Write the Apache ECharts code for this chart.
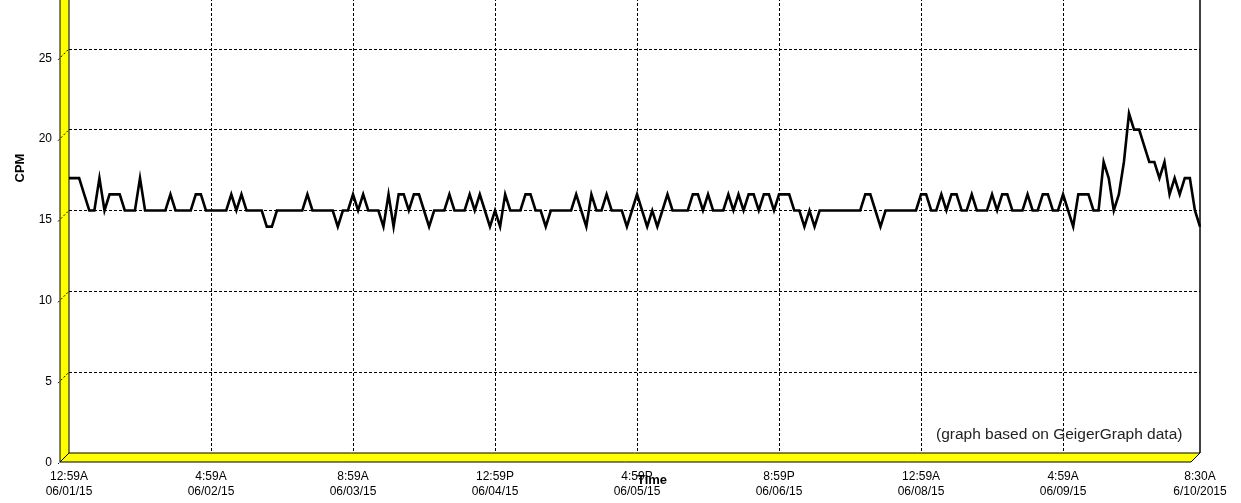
<!DOCTYPE html>
<html><head><meta charset="utf-8">
<script src="https://cdn.jsdelivr.net/npm/echarts@6/dist/echarts.min.js"></script>
<style>html,body{margin:0;padding:0;background:#fff;overflow:hidden}#c{width:1241px;height:535px;margin-top:-32px}</style>
</head><body><div id="c"></div>
<script>
// Hourly CPM readings, 12:59A 06/01/15 .. 8:30A 6/10/2015
const cpm = [
 17,17,17,16,15,15,17,15,16,16, 16,15,15,15,17,15,15,15,15,15,
 16,15,15,15,15,16,16,15,15,15, 15,15,16,15,16,15,15,15,15,14,
 14,15,15,15,15,15,15,16,15,15, 15,15,15,14,15,15,16,15,16,15,
 15,15,14,16,14,16,16,15,16,16, 15,14,15,15,15,16,15,15,15,16,
 15,16,15,14,15,14,16,15,15,15, 16,16,15,15,14,15,15,15,15,15,
 16,15,14,16,15,15,16,15,15,15, 14,15,16,15,14,15,14,15,16,15,
 15,15,15,16,16,15,16,15,15,15, 16,15,16,15,16,16,15,16,16,15,
 16,16,16,15,15,14,15,14,15,15, 15,15,15,15,15,15,15,16,16,15,
 14,15,15,15,15,15,15,15,16,16, 15,15,16,15,16,16,15,15,16,15,
 15,15,16,15,16,16,15,15,15,16, 15,15,16,16,15,15,16,15,14,16,
 16,16,15,15,18,17,15,16,18,21, 20,20,19,18,18,17,18,16,17,16,
 17,17,15,14
];
const tickIndex = [0,28,56,84,112,140,168,196,223];
const tickLabels = ['12:59A\n06/01/15','4:59A\n06/02/15','8:59A\n06/03/15','12:59P\n06/04/15',
  '4:59P\n06/05/15','8:59P\n06/06/15','12:59A\n06/08/15','4:59A\n06/09/15','8:30A\n6/10/2015'];
const yTicks = [0,5,10,15,20,25];
const categories = cpm.map((_, i) => String(i));

const FONT = '"Liberation Sans", Arial, sans-serif';
const OFF = 32; // the chart canvas starts 32px above the page
const chart = echarts.init(document.getElementById('c'), null, {renderer: 'canvas'});
const dash = [3, 2];
chart.setOption({
  animation: false,
  backgroundColor: '#ffffff',
  grid: {left: 69, right: 41, top: 0, bottom: 50, containLabel: false},
  xAxis: {
    type: 'category', data: categories, boundaryGap: false,
    axisLine: {show: false}, axisTick: {show: false},
    axisLabel: {
      interval: (i) => tickIndex.includes(i),
      formatter: (v, i) => { const k = tickIndex.indexOf(Number(v)); return k >= 0 ? tickLabels[k] : ''; },
      margin: 16, color: '#000', fontFamily: FONT, fontSize: 12, lineHeight: 15, align: 'center'
    },
    splitLine: {show: true, interval: (i) => tickIndex.includes(i) && i !== 0 && i !== 223,
      lineStyle: {color: '#000', width: 1, type: dash}}
  },
  yAxis: {
    type: 'value', min: 0, max: 30, interval: 5,
    axisLine: {show: false}, axisTick: {show: false},
    axisLabel: {
      formatter: (v) => yTicks.includes(v) ? String(v) : '',
      margin: 17, color: '#000', fontFamily: FONT, fontSize: 12,
      verticalAlign: 'top', lineHeight: 19
    },
    splitLine: {show: true, lineStyle: {color: '#000', width: 1, type: dash}}
  },
  series: [{
    type: 'line', data: cpm, symbol: 'none', z: 5,
    lineStyle: {color: '#000', width: 2.6, join: 'miter'}
  }]
});

// 3D-style walls and decorations (positions from the axes)
const xL = chart.convertToPixel({xAxisIndex: 0}, 0);
const xR = chart.convertToPixel({xAxisIndex: 0}, cpm.length - 1);
const y0 = chart.convertToPixel({yAxisIndex: 0}, 0);
const d = 9;
const g = [];
g.push({type: 'polygon', shape: {points: [[xL - d, 0], [xL, 0], [xL, y0], [xL - d, y0 + d]]},
  style: {fill: '#ffff00', stroke: '#000', lineWidth: 1}, z: 10});
g.push({type: 'polygon', shape: {points: [[xL - d, y0 + d], [xL, y0], [xR, y0], [xR - d, y0 + d]]},
  style: {fill: '#ffff00', stroke: '#000', lineWidth: 1}, z: 10});
g.push({type: 'line', shape: {x1: xR, y1: 0, x2: xR, y2: y0}, style: {stroke: '#000', lineWidth: 1.5}, z: 10});
yTicks.forEach(v => {
  const yy = chart.convertToPixel({yAxisIndex: 0}, v);
  g.push({type: 'line', shape: {x1: xL - d - 2, y1: yy + d + 2, x2: xL, y2: yy},
    style: {stroke: '#000', lineWidth: 1, lineDash: [2, 2]}, z: 11});
});
g.push({type: 'text', x: 20, y: 168 + OFF, rotation: Math.PI / 2,
  style: {text: 'CPM', font: 'bold 13px ' + FONT, fill: '#000', align: 'center', verticalAlign: 'middle'}, z: 12});
g.push({type: 'text', x: 652, y: 480 + OFF,
  style: {text: 'Time', font: 'bold 13px ' + FONT, fill: '#000', align: 'center', verticalAlign: 'middle'}, z: 12});
g.push({type: 'text', x: 936, y: 435 + OFF,
  style: {text: '(graph based on GeigerGraph data)', font: '15.5px ' + FONT, fill: '#222', align: 'left', verticalAlign: 'middle'}, z: 12});
chart.setOption({graphic: g});
</script>
</body></html>
